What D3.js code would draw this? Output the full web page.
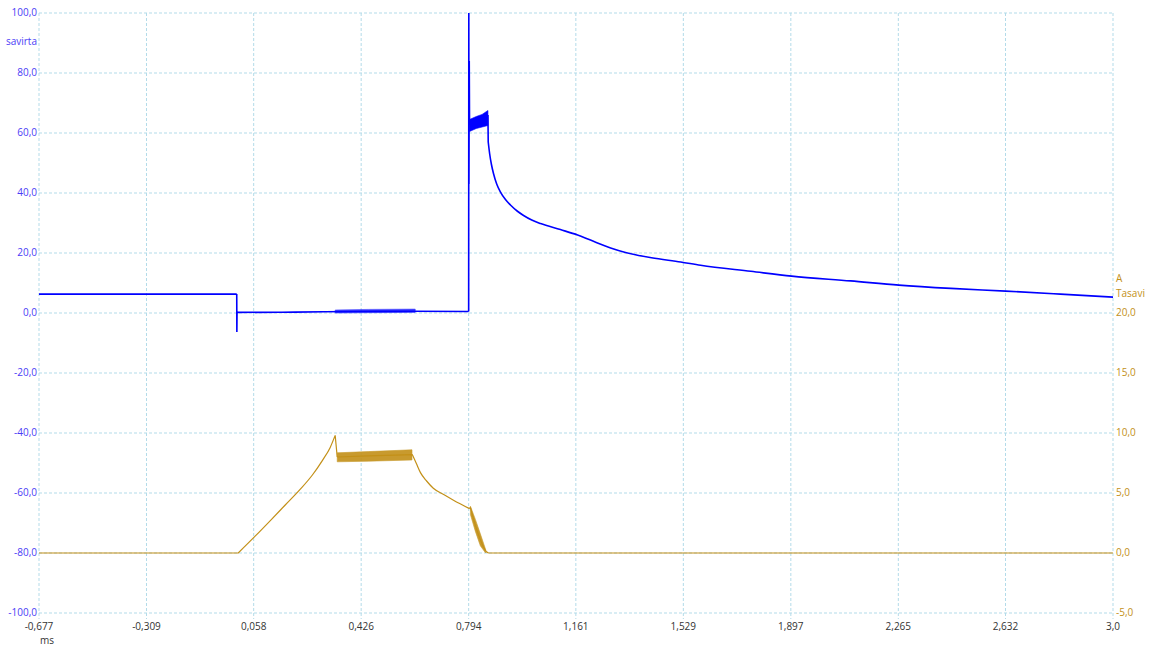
<!DOCTYPE html>
<html>
<head>
<meta charset="utf-8">
<script src="https://cdn.jsdelivr.net/npm/d3@7"></script>
<style>
  body { margin: 0; background: #fff; }
  text { font-family: "Open Sans", "DejaVu Sans", sans-serif; font-size: 10px; }
</style>
</head>
<body>
<svg id="chart" width="1151" height="648"></svg>
<script>
// tick labels
const timeTicks = [-0.677, -0.309, 0.058, 0.426, 0.794, 1.161, 1.529, 1.897, 2.265, 2.632, 3.0];
const voltTicks = [-100, -80, -60, -40, -20, 0, 20, 40, 60, 80, 100];
const ampTicks = [-5, 0, 5, 10, 15, 20];

// blue trace (savirta, left axis)
const blueTime  = [-0.677, 0.0, 0.0004, 0.001, 0.003, 0.2, 0.4, 0.6, 0.794, 0.7945, 0.795, 0.796, 0.797, 0.799, 0.86, 0.861, 0.866, 0.872, 0.879, 0.89, 0.903, 0.92, 0.937, 0.96, 0.982, 1.01, 1.04, 1.108, 1.167, 1.211, 1.28, 1.331, 1.42, 1.52, 1.588, 1.76, 1.9, 2.102, 2.267, 2.445, 2.633, 2.82, 3.0];
const blueValue = [6.3, 6.3, -6.3, 0.4, 0.2, 0.3, 0.5, 0.6, 0.5, 100, 43, 84, 63, 63, 66, 57, 53, 49.5, 46.5, 43, 40.3, 37.8, 36, 34, 32.5, 31, 29.8, 27.8, 26, 24.3, 21.7, 20.2, 18.4, 17, 15.9, 13.9, 12.3, 10.7, 9.3, 8.2, 7.3, 6.3, 5.3];
// sharp corners where the trace is not smooth
const blueCorners = [-0.677, 0.0, 0.0004, 0.001, 0.794, 0.7945, 0.795, 0.796, 0.797, 0.86, 0.861, 3.0];

// blue ringing envelopes
const blueBandTime = [0.797, 0.82, 0.84, 0.86];
const blueBandLow  = [60.5, 61.5, 62, 62.5];
const blueBandHigh = [64.5, 65.5, 66.2, 67.5];
const blueNoiseTime = [0.337, 0.45, 0.611];
const blueNoiseLow  = [0.0, 0.1, 0.2];
const blueNoiseHigh = [1.0, 1.2, 1.3];

// orange trace (Tasavi, right axis)
const orangeTime  = [-0.677, 0.005, 0.063, 0.115, 0.166, 0.217, 0.259, 0.293, 0.32, 0.337, 0.344, 0.45, 0.601, 0.615, 0.629, 0.65, 0.673, 0.71, 0.742, 0.797, 0.8, 0.817, 0.834, 0.855, 0.862, 3.0];
const orangeValue = [0, 0, 1.4, 2.7, 4.0, 5.3, 6.5, 7.7, 8.8, 9.8, 8.0, 8.1, 8.2, 7.45, 6.7, 6.0, 5.4, 4.85, 4.4, 3.7, 3.8, 2.3, 1.1, 0.1, 0, 0];
const orangeCorners = [-0.677, 0.005, 0.337, 0.344, 0.601, 0.797, 0.8, 0.862, 3.0];

// orange noise envelopes
const orangePlateauTime = [0.344, 0.45, 0.6];
const orangePlateauLow  = [7.6, 7.65, 7.75];
const orangePlateauHigh = [8.35, 8.45, 8.6];
const orangeFallTime = [0.8, 0.817, 0.834, 0.852];
const orangeFallLow  = [3.2, 1.8, 0.6, 0];
const orangeFallHigh = [3.9, 2.8, 1.6, 0.3];

const svg = d3.select("#chart");
const margin = { left: 39, right: 38, top: 13, bottom: 35 };
const width = 1151, height = 648;

const x = d3.scaleLinear().domain([-0.677, 3.0]).range([margin.left, width - margin.right]);
const yL = d3.scaleLinear().domain([-100, 100]).range([height - margin.bottom, margin.top]);
const yR = d3.scaleLinear().domain([-5, 20]).range([height - margin.bottom, yL(0)]);

const gridColor = "#b3dbe9";
const blue = "#0000ff";
const orange = "#c39018";
const fmt = d => d3.format(".1f")(d).replace(".", ",").replace("−", "-");

// grid
svg.append("g").selectAll("line.h")
  .data(voltTicks).enter().append("line")
  .attr("x1", x(-0.677)).attr("x2", x(3.0))
  .attr("y1", d => yL(d)).attr("y2", d => yL(d))
  .attr("stroke", gridColor).attr("stroke-dasharray", "3,2");
svg.append("g").selectAll("line.v")
  .data(timeTicks).enter().append("line")
  .attr("x1", d => x(d)).attr("x2", d => x(d))
  .attr("y1", yL(100)).attr("y2", yL(-100) + 6)
  .attr("stroke", gridColor).attr("stroke-dasharray", "3,2");

// left axis labels
svg.append("g").selectAll("text")
  .data(voltTicks).enter().append("text")
  .attr("x", margin.left - 2).attr("y", d => yL(d) + 3)
  .attr("text-anchor", "end").attr("fill", "#4a3cf6")
  .text(fmt);
svg.append("text").attr("x", margin.left - 2).attr("y", 45)
  .attr("text-anchor", "end").attr("fill", "#4a3cf6").text("savirta");

// right axis labels
svg.append("g").selectAll("text")
  .data(ampTicks).enter().append("text")
  .attr("x", x(3.0) + 3).attr("y", d => yR(d) + 3)
  .attr("text-anchor", "start").attr("fill", orange)
  .text(fmt);
svg.append("text").attr("x", x(3.0) + 3).attr("y", 282).attr("fill", orange).text("A");
svg.append("text").attr("x", x(3.0) + 3).attr("y", 297).attr("fill", orange).text("Tasavi");

// bottom axis labels
svg.append("g").selectAll("text")
  .data(timeTicks).enter().append("text")
  .attr("x", d => x(d)).attr("y", 630)
  .attr("text-anchor", "middle").attr("fill", "#333")
  .text(d => d3.format(d === 3.0 ? ".1f" : ".3f")(d).replace(".", ",").replace("−", "-"));
svg.append("text").attr("x", 40).attr("y", 644).attr("fill", "#333").text("ms");

// envelopes
function band(t, lo, hi, y, color, op) {
  const pts = t.map((d, i) => ({ t: d, lo: lo[i], hi: hi[i] }));
  svg.append("path").datum(pts)
    .attr("d", d3.area().x(d => x(d.t)).y0(d => y(d.lo)).y1(d => y(d.hi)))
    .attr("fill", color).attr("stroke", color).attr("stroke-width", 0.6)
    .attr("opacity", op);
}

// smooth pieces between corners, joined into one path
function trace(t, v, corners, y, color, w) {
  const pts = t.map((d, i) => [d, v[i]]);
  const line = d3.line().x(d => x(d[0])).y(d => y(d[1])).curve(d3.curveMonotoneX);
  let path = "";
  for (let k = 0; k < corners.length - 1; k++) {
    const seg = pts.filter(p => p[0] >= corners[k] && p[0] <= corners[k + 1]);
    if (seg.length > 1) path += line(seg);
  }
  svg.append("path")
    .attr("d", path)
    .attr("fill", "none").attr("stroke", color).attr("stroke-width", w)
    .attr("stroke-linejoin", "round");
}

band(orangePlateauTime, orangePlateauLow, orangePlateauHigh, yR, orange, 0.9);
band(orangeFallTime, orangeFallLow, orangeFallHigh, yR, orange, 0.9);
trace(orangeTime, orangeValue, orangeCorners, yR, orange, 1.2);

band(blueNoiseTime, blueNoiseLow, blueNoiseHigh, yL, blue, 0.75);
band(blueBandTime, blueBandLow, blueBandHigh, yL, blue, 1);
trace(blueTime, blueValue, blueCorners, yL, blue, 1.6);
</script>
</body>
</html>
